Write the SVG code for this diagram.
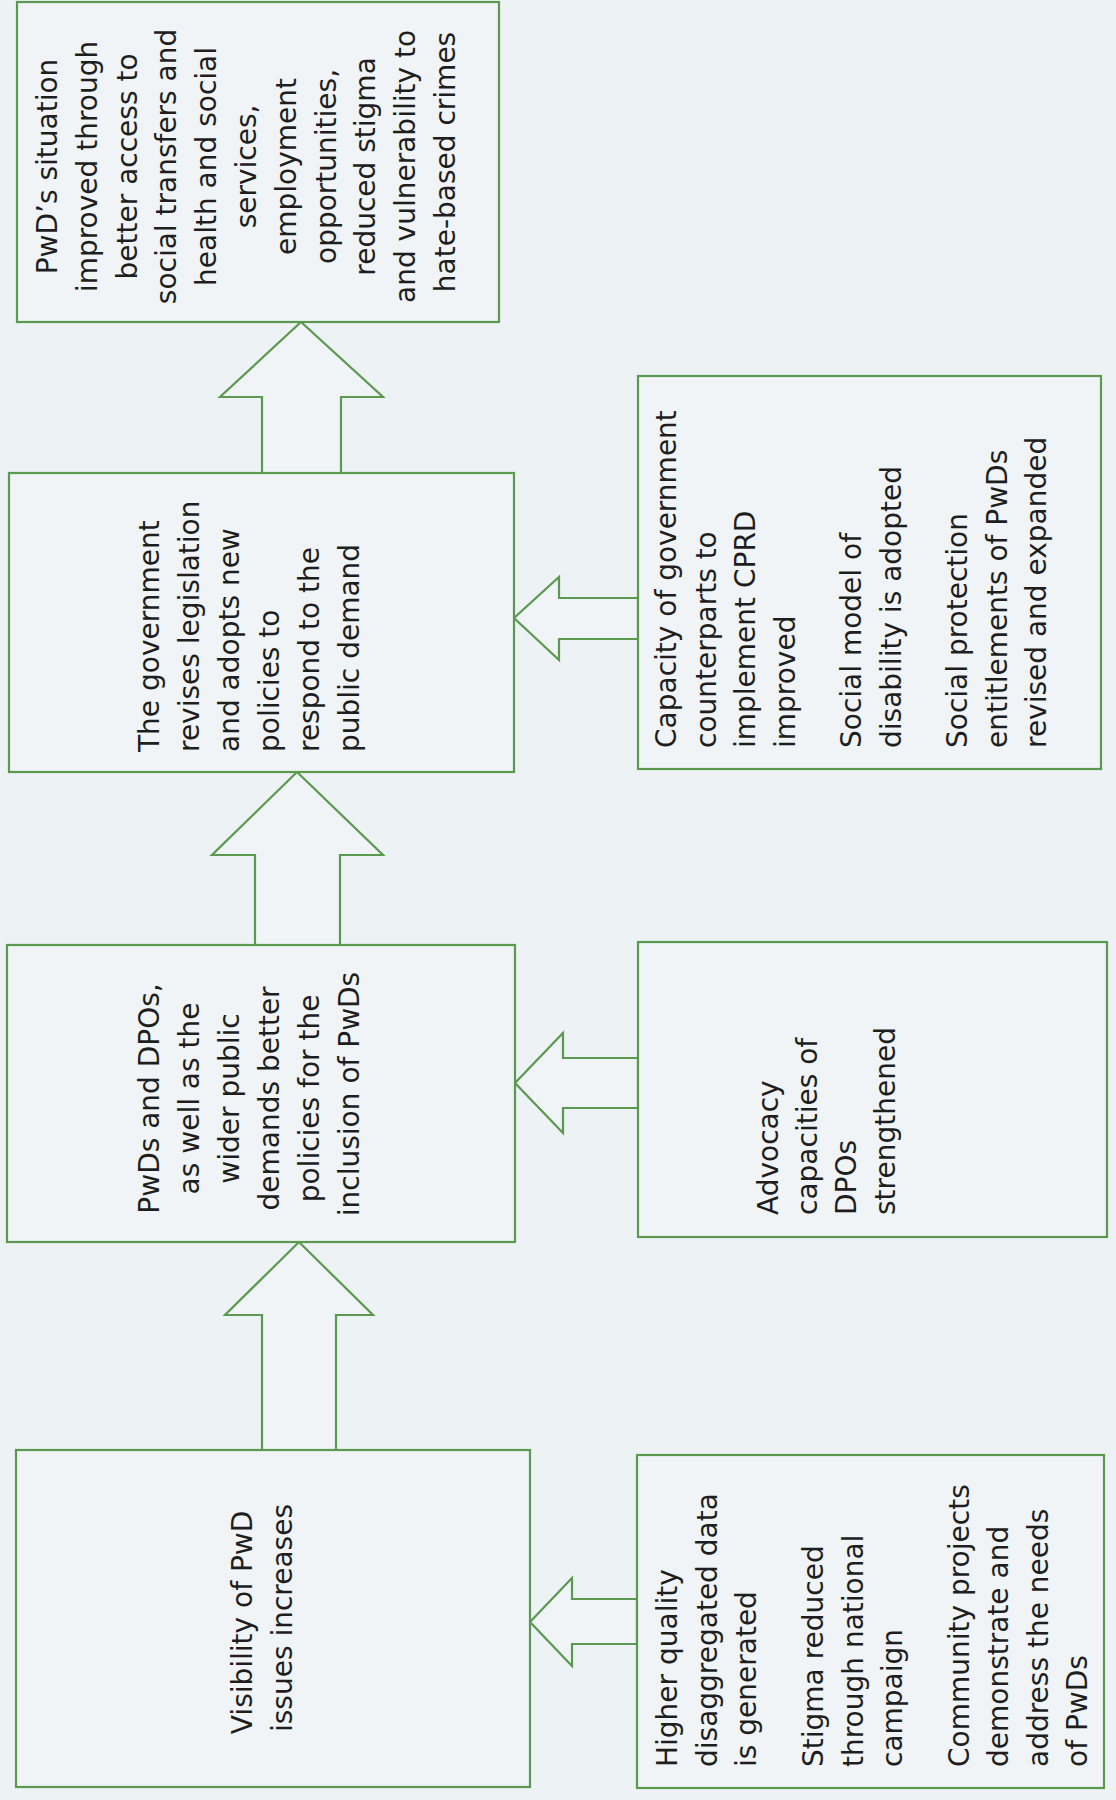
<svg xmlns="http://www.w3.org/2000/svg" width="1116" height="1800" viewBox="0 0 1116 1800">
  <style>
    .box { fill: #f0f4f6; stroke: #5c9950; stroke-width: 2.2; }
    .arr { fill: #f0f4f6; stroke: #5c9950; stroke-width: 2.2; stroke-linejoin: miter; }
    .t { font-family: "DejaVu Sans", Verdana, sans-serif; font-size: 28px; fill: #1e1e1e; }
    .c { text-anchor: middle; }
    .s { text-anchor: start; }
  </style>
  <rect x="0" y="0" width="1116" height="1800" fill="#edf2f4"/>

  <g id="connectors">
    <polygon class="arr" points="262,473 262,397 220,397 301,322 383,397 341,397 341,473"/>
    <polygon class="arr" points="255,945 255,855 212,855 297,772 383,855 340,855 340,945"/>
    <polygon class="arr" points="262,1450 262,1315 225,1315 299,1242 373,1315 336,1315 336,1450"/>
    <polygon class="arr" points="638,598 559,598 559,577 514,618 559,660 559,639 638,639"/>
    <polygon class="arr" points="638,1058 563,1058 563,1033 515,1083 563,1133 563,1108 638,1108"/>
    <polygon class="arr" points="637,1599 572,1599 572,1578 530,1622 572,1666 572,1644 637,1644"/>
  </g>

  <g id="node-impact">
    <rect class="box" x="17" y="2" width="482" height="320"/>
    <text class="t c" transform="translate(0,162) rotate(-90)">
      <tspan x="0" y="57">PwD’s situation</tspan>
      <tspan x="0" y="96.8">improved through</tspan>
      <tspan x="0" y="136.6">better access to</tspan>
      <tspan x="0" y="176.4">social transfers and</tspan>
      <tspan x="0" y="216.2">health and social</tspan>
      <tspan x="0" y="256">services,</tspan>
      <tspan x="0" y="295.8">employment</tspan>
      <tspan x="0" y="335.6">opportunities,</tspan>
      <tspan x="0" y="375.4">reduced stigma</tspan>
      <tspan x="0" y="415.2">and vulnerability to</tspan>
      <tspan x="0" y="455">hate-based crimes</tspan>
    </text>
  </g>

  <g id="node-government">
    <rect class="box" x="9" y="473" width="505" height="299"/>
    <text class="t s" transform="translate(0,752) rotate(-90)">
      <tspan x="0" y="159">The government</tspan>
      <tspan x="0" y="199">revises legislation</tspan>
      <tspan x="0" y="239">and adopts new</tspan>
      <tspan x="0" y="279">policies to</tspan>
      <tspan x="0" y="319">respond to the</tspan>
      <tspan x="0" y="359">public demand</tspan>
    </text>
  </g>

  <g id="node-demand">
    <rect class="box" x="7" y="945" width="508" height="297"/>
    <text class="t c" transform="translate(0,1094) rotate(-90)">
      <tspan x="0" y="159">PwDs and DPOs,</tspan>
      <tspan x="0" y="199">as well as the</tspan>
      <tspan x="0" y="239">wider public</tspan>
      <tspan x="0" y="279">demands better</tspan>
      <tspan x="0" y="319">policies for the</tspan>
      <tspan x="0" y="359">inclusion of PwDs</tspan>
    </text>
  </g>

  <g id="node-visibility">
    <rect class="box" x="16" y="1450" width="514" height="337"/>
    <text class="t c" transform="translate(0,1618) rotate(-90)">
      <tspan x="0" y="252">Visibility of PwD</tspan>
      <tspan x="0" y="292">issues increases</tspan>
    </text>
  </g>

  <g id="node-capacity">
    <rect class="box" x="638" y="376" width="463" height="393"/>
    <text class="t s" transform="translate(0,748) rotate(-90)">
      <tspan x="0" y="676">Capacity of government</tspan>
      <tspan x="0" y="715.5">counterparts to</tspan>
      <tspan x="0" y="755">implement CPRD</tspan>
      <tspan x="0" y="794.5">improved</tspan>
      <tspan x="0" y="861">Social model of</tspan>
      <tspan x="0" y="900.5">disability is adopted</tspan>
      <tspan x="0" y="967">Social protection</tspan>
      <tspan x="0" y="1006.5">entitlements of PwDs</tspan>
      <tspan x="0" y="1046">revised and expanded</tspan>
    </text>
  </g>

  <g id="node-advocacy">
    <rect class="box" x="638" y="942" width="469" height="295"/>
    <text class="t s" transform="translate(0,1215) rotate(-90)">
      <tspan x="0" y="778">Advocacy</tspan>
      <tspan x="0" y="817">capacities of</tspan>
      <tspan x="0" y="856">DPOs</tspan>
      <tspan x="0" y="895">strengthened</tspan>
    </text>
  </g>

  <g id="node-data">
    <rect class="box" x="637" y="1455" width="467" height="333"/>
    <text class="t s" transform="translate(0,1767) rotate(-90)">
      <tspan x="0" y="677">Higher quality</tspan>
      <tspan x="0" y="716.5">disaggregated data</tspan>
      <tspan x="0" y="756">is generated</tspan>
      <tspan x="0" y="823">Stigma reduced</tspan>
      <tspan x="0" y="862.5">through national</tspan>
      <tspan x="0" y="902">campaign</tspan>
      <tspan x="0" y="968.5">Community projects</tspan>
      <tspan x="0" y="1008">demonstrate and</tspan>
      <tspan x="0" y="1047.5">address the needs</tspan>
      <tspan x="0" y="1087">of PwDs</tspan>
    </text>
  </g>
</svg>
